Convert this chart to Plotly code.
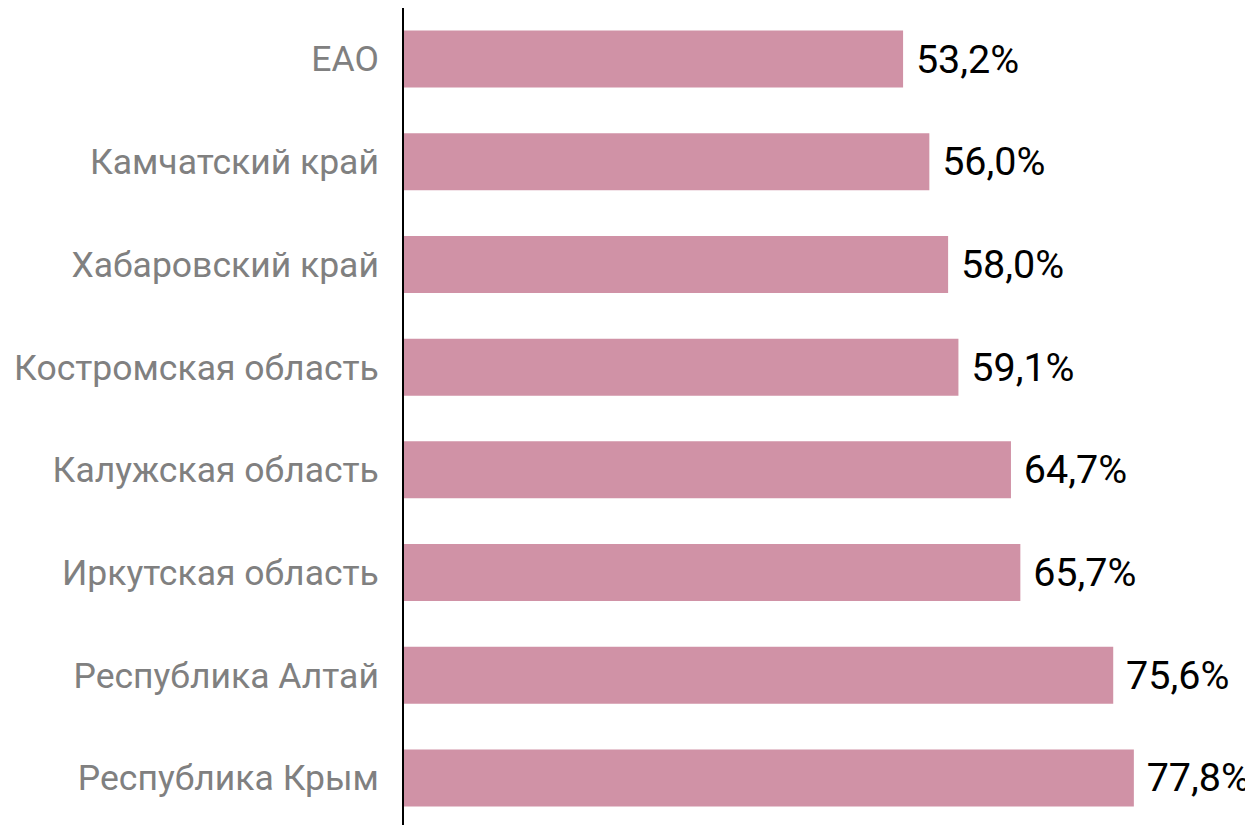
import plotly.graph_objects as go

categories = ["ЕАО", "Камчатский край", "Хабаровский край", "Костромская область",
              "Калужская область", "Иркутская область", "Республика Алтай", "Республика Крым"]
values = [53.2, 56.0, 58.0, 59.1, 64.7, 65.7, 75.6, 77.8]

FONT = "Roboto, Open Sans, DejaVu Sans, sans-serif"

fig = go.Figure(go.Bar(
    x=values,
    y=categories,
    orientation="h",
    marker=dict(color="#D092A6", line=dict(width=0)),
    width=0.555,
    text=values,
    texttemplate=" %{x:.1f}%",
    textposition="outside",
    constraintext="none",
    outsidetextfont=dict(family=FONT, size=39.5, color="#000000"),
    cliponaxis=False,
))

# page body has an 8px default margin, so the figure is offset by 8px
fig.update_layout(
    width=1245,
    height=817,
    margin=dict(l=396, r=0, t=0, b=0, autoexpand=False),
    paper_bgcolor="white",
    plot_bgcolor="white",
    separators=", ",
    showlegend=False,
    font=dict(family=FONT),
    xaxis=dict(range=[0, 90.5], visible=False, showgrid=False, zeroline=False,
               automargin=False),
    yaxis=dict(
        type="category",
        categoryorder="array",
        categoryarray=categories,
        range=[7.458, -0.497],
        automargin=False,
        showline=True,
        linecolor="#000000",
        linewidth=2,
        showgrid=False,
        zeroline=False,
        ticks="",
        ticklabelstandoff=16,
        tickfont=dict(family=FONT, size=35.5, color="#808080"),
    ),
)

fig.write_html("out.html")
